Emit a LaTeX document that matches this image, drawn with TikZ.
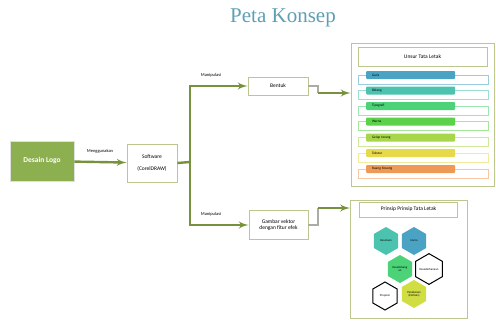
\documentclass[tikz,border=0pt]{standalone}
\usepackage{fontspec}
\setmainfont{Carlito}
\newfontfamily\titlefont{Liberation Serif}
\usetikzlibrary{shapes,arrows}

\definecolor{titleteal}{HTML}{5E9FB4}
\definecolor{logogreen}{HTML}{8CB050}
\definecolor{arrowgreen}{HTML}{76923C}
\definecolor{boxline}{HTML}{BCC790}
\definecolor{kneegray}{HTML}{A9ADA4}
\definecolor{barblue}{HTML}{4AA3C3}
\definecolor{barteal}{HTML}{4CC3AE}
\definecolor{bargreen}{HTML}{4CD277}
\definecolor{barlime}{HTML}{5CD24A}
\definecolor{baryellowgreen}{HTML}{A8D64A}
\definecolor{baryellow}{HTML}{E7DA4A}
\definecolor{barorange}{HTML}{EE9955}

\begin{document}
\begin{tikzpicture}[x=1pt,y=-1pt,
    block_title/.style ={rectangle, draw=none, text=titleteal,
      font=\titlefont\fontsize{21}{24}\selectfont},
    block_logo/.style ={rectangle, draw=gray!25, thick, fill=logogreen,
      text=white, font=\bfseries\fontsize{7.5}{9}\selectfont,
      minimum width=64, minimum height=40},
    block_center/.style ={rectangle, draw=boxline, thick, fill=white,
      align=center, font=\fontsize{5.5}{6.5}\selectfont, inner sep=1pt},
    block_frame/.style ={rectangle, draw=boxline, thick, fill=white,
      minimum width=143, minimum height=143},
    block_head/.style ={rectangle, draw=boxline, thick, fill=white,
      font=\fontsize{5.5}{6.5}\selectfont},
    block_label/.style ={rectangle, draw=none, font=\fontsize{4.5}{5}\selectfont},
    bar_frame/.style ={rectangle, draw, line width=0.7pt, fill=white,
      minimum width=130, minimum height=9},
    bar_fill/.style ={rectangle, rounded corners=1pt, minimum width=89,
      minimum height=8, text width=85, inner sep=0pt,
      font=\fontsize{3.5}{4}\selectfont},
    hex/.style ={regular polygon, regular polygon sides=6,
      shape border rotate=90, minimum size=28, inner sep=0pt,
      align=center, font=\fontsize{3}{3.5}\selectfont},
    hex_white/.style ={hex, draw=black, line width=1pt, fill=white},
    line/.style ={draw=arrowgreen, line width=2.4pt, -latex', shorten >=0pt},
    line_plain/.style ={draw=arrowgreen, line width=2.4pt, -},
    knee/.style ={draw=kneegray, line width=1.4pt}]
    \useasboundingbox (0,0) rectangle (496,324);
    % title
    \node [block_title] (title) at (283,18) {Peta Konsep};
    % left part of the map
    \node [block_logo] (logo) at (42,161) {Desain Logo};
    \node [block_center, minimum width=50, minimum height=38] (soft) at (152,163)
      {Software\\[5pt](CorelDRAW)};
    \node [block_center, minimum width=60, minimum height=18] (bentuk) at (278,86) {Bentuk};
    \node [block_center, minimum width=59, minimum height=29] (gambar) at (278.5,225)
      {Gambar vektor\\dengan fitur efek};
    % labels on the arrows
    \node [block_label] (lblpakai) at (100,151) {Menggunakan};
    \node [block_label] (lblatas) at (211,75) {Manipulasi};
    \node [block_label] (lblbawah) at (211,214) {Manipulasi};
    % the two boxes on the right
    \node [block_frame] (unsur) at (422.5,114.5) {};
    \node [block_head, minimum width=129, minimum height=19] (unsurhead) at (422.5,57) {Unsur Tata Letak};
    \node [block_frame, minimum width=117, minimum height=118] (prinsip) at (409,259) {};
    \node [block_head, minimum width=98, minimum height=15] (prinsiphead) at (408.5,209.5) {Prinsip Prinsip Tata Letak};
    % unsur list - frames first, then the coloured bars
    \node [bar_frame, draw=barblue!55] (frame1) at (423,79.5) {};
    \node [bar_frame, draw=barteal!55] (frame2) at (423,95) {};
    \node [bar_frame, draw=bargreen!55] (frame3) at (423,110.5) {};
    \node [bar_frame, draw=barlime!55] (frame4) at (423,126) {};
    \node [bar_frame, draw=baryellowgreen!55] (frame5) at (423,142) {};
    \node [bar_frame, draw=baryellow!55] (frame6) at (423,157.5) {};
    \node [bar_frame, draw=barorange!55] (frame7) at (423,173.5) {};
    \node [bar_fill, fill=barblue] (garis) at (410.5,75) {\hspace{4pt}Garis};
    \node [bar_fill, fill=barteal] (bidang) at (410.5,90.5) {\hspace{4pt}Bidang};
    \node [bar_fill, fill=bargreen] (tipografi) at (410.5,106) {\hspace{4pt}Tipografi};
    \node [bar_fill, fill=barlime] (warna) at (410.5,121.5) {\hspace{4pt}Warna};
    \node [bar_fill, fill=baryellowgreen] (gelap) at (410.5,137.5) {\hspace{4pt}Gelap terang};
    \node [bar_fill, fill=baryellow] (tekstur) at (410.5,153) {\hspace{4pt}Tekstur};
    \node [bar_fill, fill=barorange] (ruang) at (410.5,169) {\hspace{4pt}Ruang Kosong};
    % prinsip hexagons
    \node [hex, fill=barteal] (kesatuan) at (386,241) {Kesatuan};
    \node [hex, fill=barblue] (irama) at (414,241) {Irama};
    \node [hex, fill=bargreen] (seimbang) at (400,269) {Keseimbang\\an};
    \node [hex_white] (sederhana) at (429,269) {Kesederhanaan};
    \node [hex_white] (proporsi) at (385,296) {Proporsi};
    \node [hex, fill=baryellow!90!green] (tekanan) at (414,294) {Penekanan\\(Emfasis)};
    % connecting nodes with paths
    \coordinate (branch) at (190,162);
    \coordinate (knee1) at (318,93);
    \coordinate (knee2) at (318,208);
    \path [knee] (bentuk.east) -| (knee1);
    \path [knee] (gambar.east) -| (knee2);
    % the trunk from the software to the split, no tip
    \path [line_plain] (soft.east) -- (branch);
    \begin{scope}[every path/.style=line]
      % from the logo to the software
      \path (logo) -- (soft);
      % split into the two results
      \path (branch) |- (bentuk.west);
      \path (branch) |- (gambar.west);
      % results to the right boxes
      \path (knee1) -- (knee1 -| unsur.west);
      \path (knee2) -- (knee2 -| prinsip.west);
    \end{scope}
  \end{tikzpicture}
\end{document}
